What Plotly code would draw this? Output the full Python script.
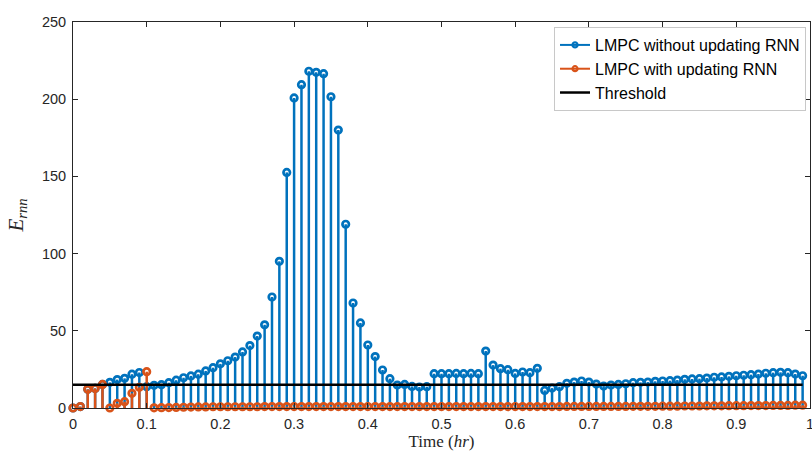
import plotly.graph_objects as go

time_hr = [round(i * 0.01, 2) for i in range(100)]

e_without_update = [
    0.0, 0.9, 12.1, 12.7, 15.3, 16.6, 18.4, 19.2, 21.9, 23.0,
    13.8, 14.7, 15.1, 16.4, 18.0, 19.6, 20.8, 21.9, 24.0, 26.1,
    28.6, 30.6, 33.0, 36.3, 40.4, 46.6, 53.9, 71.9, 95.0, 152.6,
    200.8, 209.4, 218.1, 217.4, 216.5, 201.6, 180.0, 119.0, 68.0, 55.1,
    40.8, 33.3, 24.6, 19.0, 14.9, 15.3, 14.0, 13.6, 13.8, 22.2,
    22.2, 22.2, 22.4, 22.2, 22.4, 22.2, 36.9, 27.8, 25.5, 24.8,
    22.4, 23.3, 22.9, 25.7, 11.4, 12.9, 13.8, 16.0, 16.8, 17.5,
    16.8, 15.5, 14.2, 14.9, 15.3, 15.7, 16.4, 16.6, 16.8, 17.3,
    17.5, 17.7, 18.1, 18.6, 18.8, 19.0, 19.4, 19.9, 20.1, 20.5,
    20.9, 21.2, 21.6, 22.0, 22.5, 22.9, 23.1, 22.9, 22.0, 20.9,
]

e_with_update = [
    0.0, 0.9, 12.1, 12.7, 15.3, 0.0, 3.0, 4.1, 9.5, 13.4,
    23.5, 0.1, 0.2, 0.3, 0.4, 0.5, 0.6, 0.7, 0.7, 0.8,
    0.8, 0.8, 0.8, 0.8, 0.8, 0.8, 0.9, 0.9, 0.9, 0.9,
    0.9, 0.9, 0.9, 0.9, 0.9, 0.9, 0.9, 0.9, 0.9, 0.9,
    0.9, 0.9, 0.9, 0.9, 0.9, 0.9, 0.9, 0.9, 0.9, 0.9,
    0.9, 0.9, 0.9, 0.9, 0.9, 0.9, 0.9, 0.9, 0.9, 0.9,
    0.9, 0.9, 0.9, 0.9, 0.9, 0.9, 0.9, 1.0, 1.0, 1.0,
    1.0, 1.0, 1.0, 1.0, 1.0, 1.0, 1.1, 1.1, 1.1, 1.1,
    1.2, 1.2, 1.2, 1.3, 1.3, 1.3, 1.4, 1.4, 1.4, 1.5,
    1.5, 1.5, 1.6, 1.6, 1.6, 1.7, 1.7, 1.7, 1.8, 1.8,
]

threshold = 15

x_ticks = [0, 0.1, 0.2, 0.3, 0.4, 0.5, 0.6, 0.7, 0.8, 0.9, 1]
x_tick_labels = ["0", "0.1", "0.2", "0.3", "0.4", "0.5", "0.6", "0.7", "0.8", "0.9", "1"]
y_ticks = [0, 50, 100, 150, 200, 250]

names = ["LMPC without updating RNN", "LMPC with updating RNN", "Threshold"]
BLUE = "#0072BD"
ORANGE = "#D95319"


def stem_xy(xs, ys):
    sx, sy = [], []
    for xv, yv in zip(xs, ys):
        sx += [xv, xv, None]
        sy += [0, yv, None]
    return sx, sy


fig = go.Figure()

for ys, color, name in [(e_without_update, BLUE, names[0]), (e_with_update, ORANGE, names[1])]:
    sx, sy = stem_xy(time_hr, ys)
    fig.add_trace(go.Scatter(x=sx, y=sy, mode="lines", line=dict(color=color, width=2.5),
                             showlegend=False, hoverinfo="skip", cliponaxis=False))
    fig.add_trace(go.Scatter(x=time_hr, y=ys, mode="markers",
                             marker=dict(symbol="circle-open", size=6.5, color=color,
                                         line=dict(width=2.7, color=color)),
                             showlegend=False, name=name, cliponaxis=False))
    fig.add_trace(go.Scatter(x=[None], y=[None], mode="lines+markers", name=name,
                             line=dict(color=color, width=2),
                             marker=dict(symbol="circle-open", size=5, color=color,
                                         line=dict(width=2.2, color=color))))

fig.add_trace(go.Scatter(x=time_hr, y=[threshold] * len(time_hr), mode="lines",
                         line=dict(color="black", width=2.5), name=names[2]))

axis_common = dict(showline=True, linecolor="#262626", linewidth=1, mirror="allticks",
                   ticks="inside", ticklen=5, tickcolor="#262626", showgrid=False,
                   zeroline=False, ticklabeloverflow="allow",
                   tickfont=dict(family="Liberation Sans, Arial", size=14.5, color="#262626"))

fig.update_layout(
    width=812, height=460,
    margin=dict(l=73, r=2, t=22, b=52, autoexpand=False),
    plot_bgcolor="white", paper_bgcolor="white",
    xaxis=dict(range=[0, 1], tickvals=x_ticks, ticktext=x_tick_labels, ticklabelstandoff=3,
               title=dict(text="Time (<i>hr</i>)", standoff=3,
                          font=dict(family="Liberation Serif, Times New Roman", size=17, color="#262626")),
               **axis_common),
    yaxis=dict(range=[0, 250], tickvals=y_ticks, ticklabelstandoff=3,
               title=dict(text="<i>E</i><sub><i>rnn</i></sub>", standoff=12,
                          font=dict(family="Liberation Serif, Times New Roman", size=21, color="#262626")),
               **axis_common),
    legend=dict(x=0.9946, y=0.987, xanchor="right", yanchor="top",
                bgcolor="white", bordercolor="#c8c8c8", borderwidth=1,
                font=dict(family="Liberation Sans, Arial", size=16, color="black"),
                tracegroupgap=0, itemwidth=30),
    showlegend=True,
)

fig.write_html("out.html", config={"displayModeBar": False},
               post_script="document.body.style.margin='0';document.body.style.overflow='hidden';")
